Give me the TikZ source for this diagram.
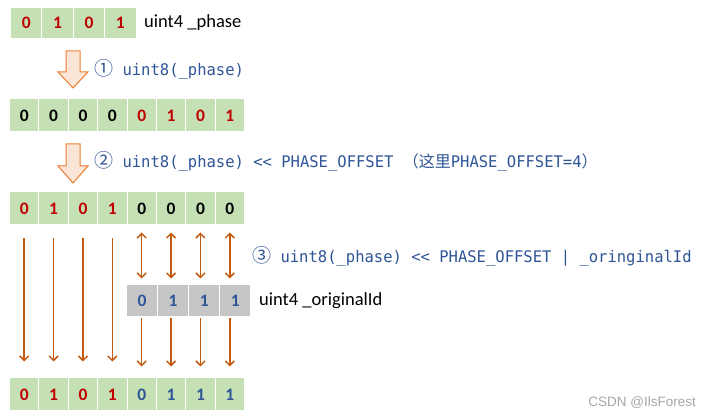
\documentclass[tikz,border=0pt]{standalone}
\usepackage{fontspec}
\usetikzlibrary{arrows.meta}
\newfontfamily\labelfont{Carlito}
\newfontfamily\digitfont{Carlito}
\newfontfamily\codefont[FakeStretch=0.97,Ligatures=TeXOff]{DejaVu Sans Mono}
\newfontfamily\cjk{Noto Sans CJK SC}
\newfontfamily\wmfont{Liberation Sans}
\definecolor{cellgreen}{HTML}{C5E0B4}
\definecolor{cellgray}{HTML}{C6C6C6}
\definecolor{bitred}{HTML}{C00000}
\definecolor{bitblue}{HTML}{2F5597}
\definecolor{bitblack}{HTML}{000000}
\definecolor{codeblue}{HTML}{2F5597}
\definecolor{arroworange}{HTML}{C55A11}
\definecolor{blockfill}{HTML}{FBE5D6}
\definecolor{blockline}{HTML}{ED7D31}
\definecolor{wmgray}{HTML}{A6A6A6}
\begin{document}
\begin{tikzpicture}[x=1pt,y=-1pt,
  cellbox/.style={fill=cellgreen,draw=white,line width=1pt,inner sep=0pt,
    font=\digitfont\bfseries\fontsize{17.5}{18}\selectfont},
  graybox/.style={cellbox,fill=cellgray},
  lbl/.style={font=\labelfont\fontsize{18.5}{20}\selectfont,inner sep=0pt,anchor=west},
  codetxt/.style={font=\codefont\fontsize{16}{18}\selectfont,text=codeblue,inner sep=0pt,
    anchor=west,text height=12pt,text depth=0pt},
  circnum/.style={font=\cjk\fontsize{19}{20}\selectfont},
  thinarrow/.style={draw=arroworange,line width=1.5pt,-{Straight Barb[length=4.5pt,width=9pt]}},
  dblarrow/.style={draw=arroworange,line width=1.5pt,{Straight Barb[length=4.5pt,width=9pt]}-{Straight Barb[length=4.5pt,width=9pt]}},
  blockarrow/.style={fill=blockfill,draw=blockline,line width=1pt,line join=miter}
]
\useasboundingbox (0,0) rectangle (710,419);

% row 1: uint4 _phase
\foreach \d [count=\i] in {0,1,0,1}
  \node[cellbox,minimum width=31.4pt,minimum height=31pt,text=bitred]
    (r1-\i) at ({10.5+31.4*(\i-0.5)},23) {\d};
\node[lbl] (l1) at (144,23) {uint4 \_phase};

% block arrow 1
\draw[blockarrow] (66,51) -- (80,51) -- (80,72) -- (88,72) -- (73,88) -- (58,72) -- (66,72) -- cycle;
\node[codetxt] (t1) at (94,70) {{\cjk\fontsize{19}{20}\selectfont ①} uint8(\_phase)};

% row 2
\foreach \d/\c [count=\i] in {0/bitblack,0/bitblack,0/bitblack,0/bitblack,0/bitred,1/bitred,0/bitred,1/bitred}
  \node[cellbox,minimum width=29.375pt,minimum height=33pt,text=\c]
    (r2-\i) at ({9.5+29.375*(\i-0.5)},115.5) {\d};

% block arrow 2
\draw[blockarrow] (66,144) -- (80,144) -- (80,166) -- (88,166) -- (73,183) -- (58,166) -- (66,166) -- cycle;
\node[codetxt] (t2) at (94,162) {{\cjk\fontsize{19}{20}\selectfont ②} uint8(\_phase) <{}< PHASE\_OFFSET {\cjk （这里}PHASE\_OFFSET=4{\cjk ）}};

% row 3
\foreach \d/\c [count=\i] in {0/bitred,1/bitred,0/bitred,1/bitred,0/bitblack,0/bitblack,0/bitblack,0/bitblack}
  \node[cellbox,minimum width=29.375pt,minimum height=33pt,text=\c]
    (r3-\i) at ({9.5+29.375*(\i-0.5)},208.5) {\d};

\node[codetxt] (t3) at (252,257) {{\cjk\fontsize{19}{20}\selectfont ③} uint8(\_phase) <{}< PHASE\_OFFSET | \_oringinalId};

% gray row: uint4 _originalId
\foreach \d [count=\i] in {0,1,1,1}
  \node[graybox,minimum width=31.1pt,minimum height=32pt,text=bitblue]
    (g-\i) at ({126.5+31.1*(\i-0.5)},301) {\d};
\node[lbl] (l2) at (259,301) {uint4 \_originalId};

% final row
\foreach \d/\c [count=\i] in {0/bitred,1/bitred,0/bitred,1/bitred,0/bitblue,1/bitblue,1/bitblue,1/bitblue}
  \node[cellbox,minimum width=29.375pt,minimum height=33pt,text=\c]
    (f-\i) at ({9.5+29.375*(\i-0.5)},394.5) {\d};

% arrows: high nibble straight down
\foreach \i in {1,...,4}
  \draw[thinarrow,shorten <=13pt,shorten >=16pt] (r3-\i.south) -- (f-\i.north);

% arrows: low nibble to/from originalId
\foreach \i [evaluate=\i as \j using int(\i+4)] in {1,...,4}{
  \draw[dblarrow,shorten <=7pt,shorten >=6pt] (r3-\j.south) -- (r3-\j.south |- g-\i.north);
  \draw[thinarrow,shorten <=1pt,shorten >=11pt] (f-\j.north |- g-\i.south) -- (f-\j.north);
}

% watermark
\node[font=\wmfont\fontsize{13.5}{14}\selectfont,text=wmgray,anchor=east,inner sep=0pt] (wm) at (696,403) {CSDN @IlsForest};
\end{tikzpicture}
\end{document}
